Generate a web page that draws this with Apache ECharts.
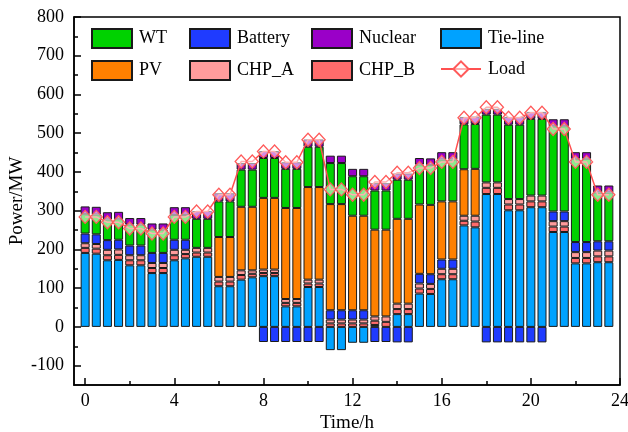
<!DOCTYPE html>
<html>
<head>
<meta charset="utf-8">
<script src="https://cdn.jsdelivr.net/npm/echarts@6/dist/echarts.min.js"></script>
<style>html,body{margin:0;padding:0;background:#fff}#c{width:628px;height:432px}</style>
</head>
<body>
<div id="c"></div>
<script>
// time slots of the category axis (h), from the left edge -0.5 to the right edge 24
const slots = [-0.5,0,0.5,1,1.5,2,2.5,3,3.5,4,4.5,5,5.5,6,6.5,7,7.5,8,8.5,9,9.5,10,10.5,11,11.5,12,12.5,13,13.5,14,14.5,15,15.5,16,16.5,17,17.5,18,18.5,19,19.5,20,20.5,21,21.5,22,22.5,23,23.5,24];
// time of each bar (h)
const times = [0,0.5,1,1.5,2,2.5,3,3.5,4,4.5,5,5.5,6,6.5,7,7.5,8,8.5,9,9.5,10,10.5,11,11.5,12,12.5,13,13.5,14,14.5,15,15.5,16,16.5,17,17.5,18,18.5,19,19.5,20,20.5,21,21.5,22,22.5,23,23.5];
const tieLine = [191,189,172,173,159,159,139,139,172,177,181,181,105,105,122,128,131,131,53,53,103,103,-60,-60,-41,-41,5,0,33,33,86,85,123,123,262,257,343,343,301,301,309,309,245,245,164,164,167,167];
const chpB = [13,13,13,13,13,13,13,13,13,11,11,11,12,12,12,9,8,8,9,9,9,9,9,9,9,9,11,13,13,13,13,13,13,13,12,15,16,16,15,15,15,15,14,14,14,14,15,15];
const chpA = [12,12,14,14,13,13,13,13,14,11,12,12,12,12,12,9,9,9,10,10,10,10,10,10,10,10,11,14,14,14,13,13,14,14,13,15,14,14,14,14,15,15,14,14,15,15,15,15];
const battery = [25,25,25,25,25,25,26,26,26,26,0,0,0,0,0,0,-39,-39,-39,-39,-39,-39,24,24,24,24,-39,-39,-40,-40,25,25,24,24,0,0,-40,-40,-40,-40,-40,-40,25,25,26,26,24,24];
const pv = [0,0,0,0,0,0,0,0,0,0,0,0,103,103,164,164,185,185,235,235,239,239,274,274,244,244,224,224,219,219,179,179,150,150,120,121,0,0,0,0,0,0,0,0,0,0,0,0];
const wt = [50,51,53,53,54,54,60,60,64,64,75,75,92,92,96,96,103,103,101,101,104,104,106,106,102,102,101,101,101,101,103,103,108,108,116,116,175,175,192,192,198,198,220,220,215,215,126,126];
const nuclear = [20,20,19,19,17,17,16,16,20,20,20,20,21,21,17,17,18,18,17,17,19,19,19,19,19,19,19,19,16,16,17,17,19,19,19,19,15,15,20,20,18,18,18,18,17,17,18,18];
const load = [284,284,270,270,254,254,241,241,284,284,298,298,341,341,427,427,453,453,425,425,483,483,355,355,341,341,374,374,398,398,410,410,426,426,540,540,567,567,540,540,553,553,511,511,426,426,341,341];
const xMajor = [0,4,8,12,16,20,24];
const xMinor = [2,6,10,14,18,22];
const yMajor = [-100,0,100,200,300,400,500,600,700,800];
const yMinor = [-50,50,150,250,350,450,550,650,750];

const FONT = 'Liberation Serif, Times New Roman, serif';
const chart = echarts.init(document.getElementById('c'), null, {renderer: 'canvas'});

function barSeries(name, values, color) {
  return {
    name: name, type: 'bar', stack: 'p', barWidth: 9, xAxisIndex: 0, yAxisIndex: 0,
    itemStyle: {color: color, borderColor: '#1a1a1a', borderWidth: 1},
    data: values.map((v, i) => [String(times[i]), v === 0 ? '-' : v]),
    z: 2
  };
}
function legend(left, items) {
  return {
    orient: 'vertical', left: left, top: 28, padding: 0, itemWidth: 40, itemHeight: 19, itemGap: 11,
    selectedMode: false,
    textStyle: {fontFamily: FONT, fontSize: 18, color: '#000', padding: [0, 0, 0, 2]},
    data: items
  };
}
const valueX = (extra) => Object.assign({
  type: 'value', min: -0.5, max: 24, position: 'bottom',
  axisLine: {show: false, onZero: false},
  splitLine: {show: false}
}, extra);
const valueY = (extra) => Object.assign({
  type: 'value', min: -150, max: 800, position: 'left',
  axisLine: {show: false, onZero: false},
  splitLine: {show: false}
}, extra);

const option = {
  animation: false,
  backgroundColor: '#fff',
  grid: {left: 74, top: 17, width: 546, height: 368, containLabel: false, outerBoundsMode: 'none',
         show: true, borderColor: '#000', borderWidth: 1.5, backgroundColor: 'transparent'},
  legend: [
    legend(91, [{name: 'WT', icon: 'rect'}, {name: 'PV', icon: 'rect'}]),
    legend(189, [{name: 'Battery', icon: 'rect'}, {name: 'CHP_A', icon: 'rect'}]),
    legend(311, [{name: 'Nuclear', icon: 'rect'}, {name: 'CHP_B', icon: 'rect'}]),
    legend(440, [{name: 'Tie-line', icon: 'rect'}, {name: 'Load'}])
  ],
  xAxis: [
    {
      type: 'category', data: slots.map(String), boundaryGap: false, position: 'bottom',
      axisLine: {show: true, onZero: false, lineStyle: {color: '#000', width: 1.5}},
      axisTick: {show: false}, axisLabel: {show: false}, splitLine: {show: false}
    },
    valueX({
      axisTick: {show: true, inside: true, length: 7, customValues: xMajor, lineStyle: {color: '#000', width: 1.5}},
      axisLabel: {customValues: xMajor, fontFamily: FONT, fontSize: 18, color: '#000', margin: 7},
      name: 'Time/h', nameLocation: 'middle', nameGap: 29, nameMoveOverlap: false,
      nameTextStyle: {fontFamily: FONT, fontSize: 19, color: '#000'}
    }),
    valueX({
      axisTick: {show: true, inside: true, length: 4, customValues: xMinor, lineStyle: {color: '#000', width: 1.5}},
      axisLabel: {show: false}
    })
  ],
  yAxis: [
    valueY({
      axisLine: {show: true, onZero: false, lineStyle: {color: '#000', width: 1.5}},
      axisTick: {show: true, inside: true, length: 7, customValues: yMajor, lineStyle: {color: '#000', width: 1.5}},
      axisLabel: {customValues: yMajor, fontFamily: FONT, fontSize: 18, color: '#000', margin: 10},
      name: 'Power/MW', nameLocation: 'middle', nameGap: 47, nameMoveOverlap: false,
      nameTextStyle: {fontFamily: FONT, fontSize: 19, color: '#000'}
    }),
    valueY({
      axisTick: {show: true, inside: true, length: 4, customValues: yMinor, lineStyle: {color: '#000', width: 1.5}},
      axisLabel: {show: false}
    })
  ],
  series: [
    barSeries('Tie-line', tieLine, '#00A2FF'),
    barSeries('CHP_B', chpB, '#FF6B6B'),
    barSeries('CHP_A', chpA, '#FF9C9C'),
    barSeries('Battery', battery, '#1F3BFF'),
    barSeries('PV', pv, '#FF8000'),
    barSeries('WT', wt, '#00D200'),
    barSeries('Nuclear', nuclear, '#9A00C8'),
    {
      name: 'Load', type: 'line', xAxisIndex: 0, yAxisIndex: 0,
      data: load.map((v, i) => [String(times[i]), v]),
      symbol: 'diamond', symbolSize: [12, 13], showAllSymbol: true,
      lineStyle: {color: '#FF5050', width: 1.5},
      itemStyle: {color: 'rgba(255,255,255,0.55)', borderColor: '#FF5A5A', borderWidth: 1.3},
      z: 5
    }
  ]
};
chart.setOption(option);
</script>
</body>
</html>
